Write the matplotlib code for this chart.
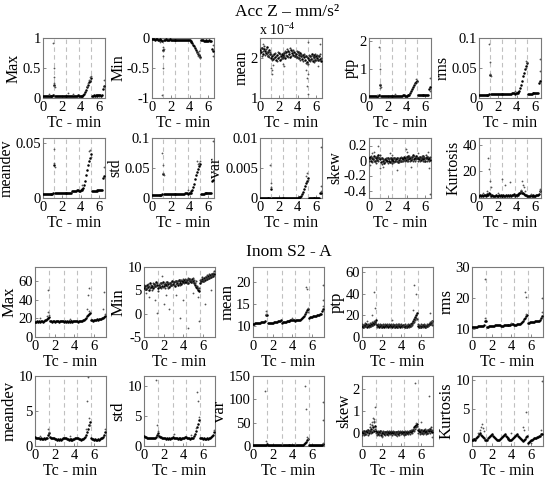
import matplotlib
matplotlib.use("Agg")
import matplotlib.pyplot as plt

plt.rcParams['font.family'] = ['Liberation Serif', 'DejaVu Serif']
plt.rcParams['mathtext.fontset'] = 'custom'
plt.rcParams['mathtext.rm'] = 'Liberation Serif'
plt.rcParams['font.size'] = 10

# ---------------- data : Acc Z (top block) ----------------
t_acc = [0.0, 0.1, 0.2, 0.3, 0.4, 0.5, 0.6, 0.7, 0.8, 0.9, 1.0, 1.1, 1.2,
         1.3, 1.4, 1.5, 1.6, 1.7, 1.8, 1.9, 2.0, 2.1, 2.2, 2.3, 2.4,
         2.5, 2.6, 2.7, 2.8, 2.9, 3.0, 3.1, 3.2, 3.3, 3.4, 3.5, 3.6, 3.7,
         3.8, 3.9, 4.0, 4.1, 4.2, 4.3, 4.4, 4.5, 4.6, 4.7, 4.8, 4.9, 5.0, 5.1,
         5.2, 5.3, 5.4, 5.5, 5.6, 5.7, 5.8, 5.9, 6.0, 6.1, 6.2, 6.3, 6.4, 6.5]
acc_breaks = [1.2, 2.5, 3.8, 5.15]

acc_max = [0.03, 0.03, 0.03, 0.04, 0.03, 0.03, 0.04, 0.04, 0.03, 0.04, 0.04, 0.05, 0.22,
           0.03, 0.03, 0.04, 0.03, 0.03, 0.04, 0.04, 0.03, 0.04, 0.04, 0.04, 0.04,
           0.03, 0.03, 0.04, 0.04, 0.03, 0.04, 0.04, 0.04, 0.03, 0.04, 0.04, 0.04, 0.05,
           0.03, 0.03, 0.04, 0.04, 0.04, 0.05, 0.07, 0.10, 0.14, 0.18, 0.22, 0.26, 0.29, 0.33,
           0.04, 0.04, 0.05, 0.04, 0.05, 0.05, 0.04, 0.05, 0.05, 0.05, 0.04, 0.05, 0.15, 0.20]
acc_max_xo = [1.1, 1.15, 1.2, 1.2, 1.25, 1.15, 4.7, 4.8, 4.9, 5.0, 5.05, 5.1, 6.5, 6.45, 2.7, 3.2, 0.6]
acc_max_yo = [0.92, 0.35, 0.25, 0.2, 0.18, 0.5, 0.2, 0.25, 0.3, 0.35, 0.3, 0.37, 0.3, 0.18, 0.08, 0.07, 0.06]

acc_min = [-0.02, -0.02, -0.02, -0.03, -0.02, -0.02, -0.03, -0.03, -0.02, -0.03, -0.04, -0.05, -0.20,
           -0.03, -0.03, -0.02, -0.03, -0.03, -0.03, -0.02, -0.03, -0.03, -0.04, -0.03, -0.04,
           -0.03, -0.03, -0.03, -0.04, -0.03, -0.03, -0.04, -0.03, -0.03, -0.04, -0.04, -0.03, -0.04,
           -0.03, -0.04, -0.04, -0.05, -0.06, -0.08, -0.11, -0.14, -0.17, -0.20, -0.23, -0.26, -0.28, -0.31,
           -0.04, -0.04, -0.04, -0.05, -0.05, -0.04, -0.05, -0.05, -0.05, -0.04, -0.05, -0.05, -0.18, -0.22]
acc_min_xo = [1.1, 1.15, 1.2, 1.2, 1.15, 1.25, 4.8, 4.9, 5.0, 5.1, 4.95, 6.5, 6.5, 0.9]
acc_min_yo = [-0.95, -0.5, -0.3, -0.15, -0.22, -0.18, -0.25, -0.3, -0.27, -0.33, -0.22, -0.12, -0.3, -0.06]

# mean in units of 1e-4
acc_mean = [2.20, 2.15, 2.25, 2.10, 2.22, 2.18, 2.12, 2.28, 2.15, 2.05, 2.20, 2.10, 2.00,
            2.05, 1.98, 2.10, 2.02, 1.95, 2.08, 2.00, 2.12, 1.96, 2.05, 2.10, 2.02,
            2.08, 2.12, 2.00, 2.15, 2.05, 2.18, 2.10, 2.02, 2.20, 2.12, 2.08, 2.15, 2.05,
            2.10, 2.02, 2.15, 2.08, 2.00, 2.12, 2.05, 1.98, 2.08, 2.02, 1.95, 2.05, 1.90, 2.00,
            1.95, 2.05, 1.98, 2.10, 1.92, 2.02, 2.08, 1.95, 2.05, 2.00, 1.96, 2.04, 1.98, 1.92]
acc_mean2 = [2.12, 2.25, 2.05, 2.18, 2.30, 2.08, 2.22, 2.10, 2.05, 2.18, 2.02, 2.15, 2.10,
             1.95, 2.08, 2.00, 2.12, 2.05, 1.92, 2.15, 2.02, 2.10, 1.98, 2.00, 2.12,
             2.00, 2.05, 2.18, 2.08, 2.22, 2.02, 2.16, 2.25, 2.06, 2.18, 2.20, 2.05, 2.12,
             2.02, 2.18, 2.00, 2.15, 2.10, 1.95, 2.10, 2.06, 1.92, 2.10, 2.05, 1.88, 2.02, 1.85,
             2.08, 1.92, 2.05, 1.98, 2.06, 1.90, 2.00, 2.10, 1.94, 2.08, 2.05, 1.95, 2.10, 2.00]
acc_mean_xo = [1.2, 1.25, 1.3, 1.35, 2.5, 2.55, 4.9, 5.0, 5.05, 5.1, 5.15, 5.0, 6.4, 5.1, 0.3, 6.2]
acc_mean_yo = [1.75, 1.6, 1.7, 1.82, 1.85, 1.8, 1.7, 1.3, 1.5, 1.1, 1.6, 1.85, 2.35, 2.4, 2.35, 1.8]

acc_ptp = [0.06, 0.06, 0.07, 0.06, 0.07, 0.06, 0.07, 0.07, 0.06, 0.07, 0.08, 0.10, 0.45,
           0.07, 0.07, 0.08, 0.07, 0.07, 0.08, 0.07, 0.08, 0.08, 0.07, 0.08, 0.08,
           0.07, 0.08, 0.08, 0.07, 0.08, 0.08, 0.07, 0.08, 0.08, 0.07, 0.08, 0.09, 0.09,
           0.07, 0.08, 0.08, 0.09, 0.10, 0.12, 0.17, 0.24, 0.32, 0.40, 0.46, 0.52, 0.56, 0.60,
           0.09, 0.09, 0.10, 0.09, 0.10, 0.10, 0.09, 0.10, 0.10, 0.10, 0.09, 0.10, 0.30, 0.40]
acc_ptp_xo = [1.1, 1.15, 1.2, 1.25, 1.2, 4.9, 5.0, 5.1, 6.5, 6.45, 2.8, 0.8]
acc_ptp_yo = [1.8, 1.0, 0.5, 0.4, 0.35, 0.5, 0.65, 0.55, 0.7, 0.25, 0.15, 0.12]

acc_rms = [0.005, 0.005, 0.005, 0.005, 0.005, 0.005, 0.005, 0.005, 0.005, 0.005, 0.005, 0.006, 0.038,
           0.006, 0.006, 0.006, 0.006, 0.006, 0.006, 0.006, 0.006, 0.006, 0.006, 0.006, 0.006,
           0.006, 0.006, 0.006, 0.007, 0.007, 0.007, 0.007, 0.007, 0.007, 0.007, 0.008, 0.008, 0.008,
           0.007, 0.008, 0.008, 0.009, 0.010, 0.012, 0.016, 0.022, 0.029, 0.036, 0.042, 0.048, 0.054, 0.058,
           0.007, 0.007, 0.007, 0.007, 0.007, 0.008, 0.008, 0.008, 0.008, 0.008, 0.008, 0.008, 0.025, 0.028]
acc_rms_xo = [1.1, 1.15, 1.2, 1.25, 4.95, 5.05, 5.1, 6.5, 6.5, 3.8]
acc_rms_yo = [0.09, 0.06, 0.04, 0.036, 0.05, 0.062, 0.06, 0.065, 0.045, 0.012]

acc_meandev = [0.004, 0.004, 0.004, 0.004, 0.004, 0.004, 0.004, 0.004, 0.004, 0.004, 0.004, 0.005, 0.030,
               0.005, 0.005, 0.005, 0.005, 0.005, 0.005, 0.005, 0.005, 0.005, 0.005, 0.005, 0.005,
               0.005, 0.005, 0.005, 0.005, 0.005, 0.005, 0.006, 0.006, 0.006, 0.006, 0.006, 0.007, 0.007,
               0.006, 0.006, 0.007, 0.007, 0.008, 0.009, 0.012, 0.016, 0.021, 0.026, 0.030, 0.034, 0.037, 0.040,
               0.006, 0.006, 0.006, 0.006, 0.006, 0.006, 0.007, 0.007, 0.007, 0.007, 0.007, 0.007, 0.018, 0.020]
acc_meandev_xo = [1.15, 1.2, 1.25, 4.9, 5.0, 5.1, 4.1, 6.5]
acc_meandev_yo = [0.045, 0.032, 0.028, 0.043, 0.044, 0.038, 0.012, 0.028]

acc_std = [0.005, 0.005, 0.005, 0.005, 0.005, 0.005, 0.005, 0.005, 0.005, 0.005, 0.005, 0.006, 0.040,
           0.006, 0.006, 0.006, 0.006, 0.006, 0.006, 0.006, 0.006, 0.006, 0.006, 0.006, 0.006,
           0.006, 0.006, 0.006, 0.006, 0.007, 0.007, 0.007, 0.007, 0.007, 0.007, 0.008, 0.008, 0.008,
           0.007, 0.008, 0.008, 0.009, 0.011, 0.013, 0.018, 0.024, 0.031, 0.038, 0.044, 0.049, 0.053, 0.057,
           0.007, 0.007, 0.007, 0.007, 0.008, 0.008, 0.008, 0.008, 0.008, 0.008, 0.008, 0.008, 0.028, 0.030]
acc_std_xo = [1.1, 1.15, 1.2, 1.25, 4.8, 4.9, 5.0, 5.1, 6.5, 6.5, 3.8]
acc_std_yo = [0.075, 0.055, 0.042, 0.038, 0.062, 0.056, 0.058, 0.062, 0.095, 0.045, 0.013]

acc_var = [0.00003, 0.00003, 0.00003, 0.00003, 0.00003, 0.00003, 0.00003, 0.00003, 0.00003, 0.00003, 0.00003, 0.00004, 0.0015,
           0.00004, 0.00004, 0.00004, 0.00004, 0.00004, 0.00004, 0.00004, 0.00004, 0.00004, 0.00004, 0.00004, 0.00004,
           0.00004, 0.00004, 0.00004, 0.00004, 0.00004, 0.00004, 0.00004, 0.00004, 0.00004, 0.00004, 0.00005, 0.00005, 0.00005,
           0.00005, 0.00006, 0.00007, 0.00008, 0.0001, 0.00015, 0.0003, 0.0006, 0.001, 0.0015, 0.002, 0.0025, 0.0029, 0.0033,
           0.00005, 0.00005, 0.00005, 0.00005, 0.00005, 0.00005, 0.00005, 0.00005, 0.00005, 0.00005, 0.00005, 0.00005, 0.0008, 0.0009]
acc_var_xo = [1.1, 1.15, 1.2, 4.9, 5.0, 5.1, 6.5, 6.5, 6.45]
acc_var_yo = [0.0055, 0.0025, 0.0018, 0.0036, 0.0042, 0.003, 0.0085, 0.002, 0.0012]

acc_skew = [0.03, 0.05, 0.00, 0.04, 0.02, 0.06, -0.01, 0.03, 0.05, 0.01, 0.08, 0.04, 0.02,
            -0.02, 0.03, 0.00, -0.03, 0.02, 0.01, -0.01, 0.04, 0.00, -0.02, 0.03, 0.01,
            0.02, -0.01, 0.03, 0.00, 0.02, 0.04, -0.02, 0.01, 0.03, 0.00, 0.04, 0.02, 0.05,
            0.03, 0.01, 0.05, 0.02, 0.06, 0.03, 0.04, 0.01, 0.05, 0.07, 0.02, 0.04, 0.06, 0.03,
            0.04, 0.02, 0.05, 0.01, 0.03, 0.06, 0.02, 0.04, 0.00, 0.03, 0.05, 0.02, 0.04, 0.01]
acc_skew2 = [-0.01, 0.02, 0.06, -0.02, 0.04, 0.00, 0.05, -0.03, 0.02, 0.06, 0.00, 0.03, 0.07,
             0.03, -0.04, 0.02, 0.01, -0.02, 0.04, 0.03, -0.03, 0.02, 0.03, -0.01, -0.03,
             -0.03, 0.03, -0.02, 0.04, -0.01, 0.00, 0.03, -0.02, 0.00, 0.05, -0.01, 0.00, 0.01,
             0.00, 0.05, -0.01, 0.04, 0.00, 0.06, -0.01, 0.05, 0.02, 0.00, 0.06, 0.00, 0.02, 0.05,
             -0.01, 0.05, 0.00, 0.04, 0.06, -0.01, 0.05, 0.00, 0.04, 0.07, -0.01, 0.05, 0.00, 0.05]
acc_skew_xo = [1.0, 0.5, 0.3, 1.2, 1.5, 2.2, 3.0, 3.9, 4.0, 4.5, 5.2, 6.5, 6.4, 6.3, 0.1, 2.5]
acc_skew_yo = [0.20, 0.12, 0.1, -0.1, -0.08, 0.1, -0.12, 0.15, 0.12, -0.08, 0.1, -0.45, -0.1, 0.12, -0.06, 0.08]

acc_kurt = [1.5, 2, 1.8, 2.5, 1.5, 2, 2.2, 1.8, 3, 2, 2.5, 3.5, 3,
            1.5, 2, 1.5, 1.8, 1.2, 2, 1.5, 1.8, 2.2, 1.5, 2, 1.8,
            1.5, 2, 1.8, 1.5, 2.5, 1.8, 2, 1.5, 2.2, 1.8, 2.5, 2, 3,
            1.5, 2, 2.5, 2, 3, 3.5, 4, 5, 4, 3.5, 3, 2.5, 2, 1.8,
            1.5, 1.8, 1.5, 2, 1.5, 1.8, 2, 1.5, 1.8, 2, 2.5, 2, 3, 5]
acc_kurt_xo = [1.0, 1.05, 1.2, 1.3, 0.4, 2.4, 2.8, 3.3, 4.6, 4.7, 4.5, 4.8, 4.9, 6.5, 6.45, 0.8, 2.0, 5.5]
acc_kurt_yo = [30, 22, 13, 8, 4, 14, 10, 12, 13, 10, 6, 8, 5, 5, 7, 5, 4, 3]

# ---------------- data : Inom S2 (bottom block) ----------------
t_cur = [0.0, 0.1, 0.2, 0.3, 0.4, 0.5, 0.6, 0.7, 0.8, 0.9, 1.0, 1.1, 1.2, 1.3, 1.4,
         1.5, 1.6, 1.7, 1.8, 1.9, 2.0, 2.1, 2.2, 2.3, 2.4, 2.5, 2.6, 2.7, 2.8,
         2.9, 3.0, 3.1, 3.2, 3.3, 3.4, 3.5, 3.6, 3.7, 3.8, 3.9, 4.0, 4.1, 4.2,
         4.3, 4.4, 4.5, 4.6, 4.7, 4.8, 4.9, 5.0, 5.1, 5.2, 5.3, 5.4, 5.5, 5.6,
         5.7, 5.8, 5.9, 6.0, 6.1, 6.2, 6.3, 6.4, 6.5, 6.6, 6.7, 6.8, 6.9, 7.0, 7.1]
cur_breaks = [1.45, 2.9, 4.3, 5.7]

cur_max = [16, 16, 17, 16, 17, 16, 17, 17, 16, 17, 18, 18, 19, 20, 21,
           17, 17, 16, 17, 17, 16, 17, 17, 17, 16, 17, 17, 17, 17,
           16, 17, 16, 17, 16, 17, 16, 17, 17, 16, 17, 17, 17, 17,
           17, 16, 17, 17, 17, 17, 18, 18, 19, 20, 22, 24, 25, 26,
           18, 18, 17, 18, 18, 18, 19, 18, 19, 19, 19, 20, 20, 21, 22]
cur_max_xo = [1.3, 1.35, 1.4, 1.2, 5.3, 5.4, 5.5, 5.5, 7.0, 7.1, 6.9, 0.5, 3.5]
cur_max_yo = [50, 27, 24, 22, 30, 45, 52, 28, 48, 25, 30, 20, 19]

cur_min = [5.5, 6.0, 5.2, 6.2, 5.8, 5.0, 6.5, 5.7, 6.0, 5.4, 6.3, 5.9, 6.8, 6.1, 5.6,
           6.2, 5.8, 6.5, 6.0, 6.7, 5.9, 6.4, 6.1, 6.8, 6.3, 5.7, 6.6, 6.2, 6.9,
           6.3, 6.8, 6.0, 7.0, 6.5, 6.2, 7.2, 6.6, 6.9, 6.4, 7.1, 6.7, 7.3, 6.8,
           6.8, 7.2, 6.5, 7.4, 7.0, 6.8, 7.5, 7.1, 6.6, 6.2, 5.8, 5.5, 5.0, 4.8,
           6.5, 7.0, 7.4, 7.0, 7.6, 7.2, 7.8, 7.5, 8.0, 7.7, 8.2, 7.9, 8.4, 8.1, 8.6]
cur_min2 = [6.2, 5.3, 6.0, 5.6, 6.4, 5.9, 5.4, 6.2, 5.1, 6.5, 5.7, 6.4, 5.9, 6.5, 4.8,
            5.9, 6.5, 5.5, 6.6, 5.8, 6.3, 5.6, 6.8, 6.0, 5.4, 6.5, 6.0, 6.8, 6.1,
            6.7, 6.1, 7.1, 6.4, 6.9, 7.0, 6.4, 7.3, 6.2, 7.2, 6.5, 7.4, 6.6, 7.5,
            7.3, 6.6, 7.6, 6.9, 7.5, 7.2, 6.8, 7.6, 7.3, 6.5, 6.9, 6.0, 5.6, 5.4,
            7.2, 6.8, 7.8, 7.3, 7.0, 7.9, 7.4, 8.2, 7.6, 8.4, 7.8, 8.5, 8.0, 8.8, 9.2]
cur_min_xo = [1.1, 1.3, 0.5, 2.0, 2.5, 3.2, 3.6, 4.0, 4.5, 5.0, 5.6, 5.5, 6.2, 6.8, 1.8, 2.2, 0.2]
cur_min_yo = [3.0, 0.2, 3.5, 2.0, 1.0, 4.0, -1.0, 3.0, -3.0, 4.5, -1.5, 3.5, 2.0, 5.0, 8.0, 4.0, 4.5]

cur_mean = [10.5, 10.5, 10.6, 10.6, 10.7, 10.7, 10.8, 10.8, 10.9, 10.9, 11.0, 11.0, 11.1, 12.5, 12.6,
            10.6, 10.6, 10.7, 10.7, 10.8, 10.8, 10.9, 10.9, 11.0, 11.0, 11.1, 11.1, 11.2, 11.3,
            10.8, 10.9, 10.9, 11.0, 11.0, 11.1, 11.1, 11.2, 11.2, 11.3, 11.3, 11.4, 11.5, 11.5,
            11.2, 11.3, 11.3, 11.4, 11.5, 11.5, 11.6, 11.8, 12.0, 12.3, 12.7, 13.2, 13.6, 14.0,
            11.9, 12.0, 12.1, 12.1, 12.2, 12.3, 12.3, 12.4, 12.5, 12.5, 12.6, 12.7, 12.8, 13.5, 14.0]
cur_mean_xo = [1.3, 1.35, 5.4, 5.45, 5.55, 5.6, 7.1, 7.05, 7.1, 4.0]
cur_mean_yo = [13.5, 12.8, 19.0, 18.5, 14.2, 13.2, 19.5, 16.0, 14.5, 11.8]

cur_ptp = [10, 9, 11, 10, 12, 9, 10, 11, 10, 12, 11, 13, 12, 14, 16,
           11, 10, 9, 10, 11, 9, 10, 9, 10, 11, 10, 9, 10, 11,
           10, 9, 10, 11, 9, 10, 9, 10, 11, 10, 9, 10, 10, 11,
           10, 9, 10, 9, 10, 11, 10, 12, 13, 15, 17, 19, 20, 22,
           10, 9, 10, 9, 10, 11, 10, 9, 10, 10, 11, 12, 12, 13, 15]
cur_ptp2 = [12, 11, 9, 13, 10, 11, 12, 9, 13, 10, 14, 11, 15, 13, 12,
            9, 12, 11, 12, 9, 11, 12, 11, 12, 9, 12, 11, 12, 9,
            12, 11, 12, 9, 11, 12, 11, 12, 9, 12, 11, 12, 9, 10,
            11, 12, 9, 11, 12, 9, 12, 10, 11, 13, 14, 16, 18, 17,
            12, 11, 9, 12, 11, 9, 12, 11, 9, 12, 10, 11, 14, 12, 11]
cur_ptp_xo = [1.2, 1.3, 1.0, 5.3, 5.5, 5.2, 6.9, 7.1, 0.5, 3.0]
cur_ptp_yo = [42, 27, 20, 48, 40, 25, 22, 15, 15, 16]

cur_rms = [10.6, 10.6, 10.7, 10.7, 10.8, 10.8, 10.9, 10.9, 11.0, 11.0, 11.1, 11.1, 11.2, 12.5, 12.7,
           10.8, 10.8, 10.9, 10.9, 11.0, 11.0, 11.1, 11.1, 11.2, 11.2, 11.3, 11.3, 11.4, 11.4,
           11.0, 11.1, 11.1, 11.2, 11.2, 11.3, 11.3, 11.4, 11.4, 11.5, 11.5, 11.6, 11.7, 11.8,
           11.4, 11.5, 11.5, 11.6, 11.7, 11.7, 11.8, 12.0, 12.3, 12.7, 13.2, 13.7, 14.2, 14.6,
           12.0, 12.1, 12.2, 12.2, 12.3, 12.4, 12.4, 12.5, 12.6, 12.6, 12.7, 12.8, 12.9, 13.6, 14.2]
cur_rms_xo = [1.3, 1.35, 5.4, 5.45, 5.5, 7.1, 7.05, 4.0]
cur_rms_yo = [26, 13.5, 22, 20.5, 15, 20, 15.5, 11.9]

cur_meandev = [1.3, 1.2, 1.2, 1.1, 1.1, 1.0, 1.1, 1.0, 1.0, 1.1, 1.0, 1.1, 1.2, 1.6, 1.8,
               1.3, 1.2, 1.2, 1.1, 1.1, 1.0, 1.0, 0.9, 1.0, 0.9, 1.0, 0.9, 1.0, 1.1,
               1.2, 1.1, 1.1, 1.0, 1.0, 0.9, 1.0, 0.9, 1.0, 0.9, 1.0, 1.0, 1.1, 1.2,
               1.2, 1.1, 1.0, 1.0, 0.9, 1.0, 1.0, 1.1, 1.3, 1.6, 2.0, 2.5, 3.0, 3.5,
               1.1, 1.0, 1.0, 0.9, 1.0, 0.9, 0.9, 1.0, 0.9, 1.0, 1.1, 1.2, 1.3, 1.6, 2.0]
cur_meandev_xo = [1.3, 1.4, 5.4, 5.3, 5.5, 5.6, 5.2, 7.1, 3.5, 0.5]
cur_meandev_yo = [2.5, 2.0, 9.8, 6.5, 4.0, 3.0, 2.5, 2.5, 1.5, 1.5]

cur_std = [1.6, 1.5, 1.5, 1.4, 1.4, 1.3, 1.4, 1.3, 1.3, 1.4, 1.3, 1.4, 1.5, 1.9, 2.1,
           1.6, 1.5, 1.5, 1.4, 1.4, 1.3, 1.3, 1.2, 1.3, 1.2, 1.3, 1.2, 1.3, 1.4,
           1.5, 1.4, 1.4, 1.3, 1.3, 1.2, 1.3, 1.2, 1.3, 1.2, 1.3, 1.3, 1.4, 1.5,
           1.5, 1.4, 1.3, 1.3, 1.2, 1.3, 1.3, 1.4, 1.7, 2.0, 2.5, 3.1, 3.7, 4.3,
           1.4, 1.3, 1.3, 1.2, 1.3, 1.2, 1.2, 1.3, 1.2, 1.3, 1.4, 1.5, 1.6, 1.9, 2.3]
cur_std_xo = [1.2, 1.3, 1.4, 5.4, 5.5, 5.3, 5.6, 7.1, 3.0, 4.8]
cur_std_yo = [11.0, 3.5, 2.5, 9.0, 7.5, 3.0, 4.8, 2.6, 2.0, 1.8]

cur_var = [2, 2, 2, 2, 2, 2, 2, 2, 2, 2, 2, 2, 2, 3, 4,
           2, 2, 2, 2, 2, 2, 2, 2, 2, 2, 2, 2, 2, 2,
           2, 2, 2, 2, 2, 2, 2, 2, 2, 2, 2, 2, 2, 2,
           2, 2, 2, 2, 2, 2, 2, 2, 3, 4, 6, 9, 12, 16,
           2, 2, 2, 2, 2, 2, 2, 2, 2, 2, 2, 2, 2, 3, 4]
cur_var_xo = [1.2, 1.3, 5.3, 5.4, 5.5, 5.55, 7.1, 7.1, 7.05, 2.9, 4.3]
cur_var_yo = [118, 10, 128, 80, 20, 14, 95, 55, 6, 5, 4]

cur_skew = [0.05, 0.0, 0.1, -0.05, 0.08, 0.02, 0.15, -0.02, 0.1, 0.2, 0.05, 0.25, 0.1, 0.3, 0.1,
            0.05, -0.05, 0.02, 0.08, -0.08, 0.0, 0.05, -0.05, 0.02, 0.06, -0.04, 0.03, 0.0, 0.05,
            -0.02, 0.04, 0.0, 0.06, -0.05, 0.02, 0.05, 0.0, -0.03, 0.04, 0.02, 0.06, 0.0, 0.05,
            0.02, -0.04, 0.05, 0.0, 0.06, 0.03, 0.08, 0.05, 0.1, 0.15, 0.25, 0.3, 0.35, 0.4,
            0.15, 0.1, 0.05, 0.12, 0.0, 0.08, 0.15, 0.05, 0.1, 0.0, 0.12, 0.08, 0.18, 0.1, 0.05]
cur_skew2 = [-0.08, 0.1, -0.1, 0.05, -0.05, 0.12, -0.08, 0.08, 0.25, 0.0, 0.35, 0.15, 0.5, 0.2, 0.0,
             -0.1, 0.08, -0.08, 0.0, 0.1, -0.12, 0.08, 0.05, -0.1, 0.0, 0.08, -0.1, 0.1, -0.05,
             0.08, -0.1, 0.1, -0.05, 0.05, -0.1, 0.0, 0.1, 0.06, -0.08, 0.1, -0.05, 0.1, -0.06,
             -0.08, 0.08, -0.06, 0.1, -0.05, 0.1, -0.04, 0.12, 0.0, 0.2, 0.1, 0.2, 0.25, 0.3,
             0.0, 0.2, -0.05, 0.0, 0.15, -0.05, 0.0, 0.18, -0.05, 0.15, 0.0, 0.2, 0.0, 0.25, 0.15]
cur_skew_xo = [1.0, 1.1, 1.2, 1.3, 0.8, 1.25, 5.4, 5.5, 6.8, 6.0, 7.1, 3.5, 2.0]
cur_skew_yo = [0.5, 0.7, 0.55, 1.2, 0.4, 0.65, 2.3, 0.45, 1.7, 0.5, -0.2, -0.15, -0.2]

cur_kurt = [-0.3, -0.2, -0.1, -0.3, 0.0, 0.2, 0.5, 0.8, 1.0, 0.6, 0.4, 0.2, 0.0, -0.2, -0.3,
            -0.2, 0.0, 0.2, 0.4, 0.6, 0.7, 0.5, 0.3, 0.1, -0.1, -0.2, -0.3, -0.2, -0.1,
            0.0, 0.2, 0.4, 0.6, 0.7, 0.5, 0.3, 0.1, -0.1, -0.2, -0.3, -0.2, -0.1, 0.0,
            0.2, 0.4, 0.6, 0.7, 0.5, 0.3, 0.1, -0.1, -0.3, -0.5, -0.3, -0.1, 0.2, 0.4,
            -0.8, -0.6, -0.4, -0.3, -0.2, -0.1, 0.0, 0.0, 0.1, 0.2, 0.3, 0.4, 0.5, 0.7, 0.8]
cur_kurt_xo = [0.8, 0.9, 1.0, 1.1, 1.2, 0.6, 5.2, 5.3, 5.5, 7.1, 7.0, 6.0, 4.0]
cur_kurt_yo = [1.5, 2.0, 2.5, 1.8, 1.2, 1.0, 2.0, 1.5, 4.5, 9.8, 1.5, -0.8, 1.0]

# ---------------- panel settings ----------------
names = ['Max', 'Min', 'mean', 'ptp', 'rms', 'meandev', 'std', 'var', 'skew', 'Kurtosis']

acc_series = [(acc_max, None, acc_max_xo, acc_max_yo),
              (acc_min, None, acc_min_xo, acc_min_yo),
              (acc_mean, acc_mean2, acc_mean_xo, acc_mean_yo),
              (acc_ptp, None, acc_ptp_xo, acc_ptp_yo),
              (acc_rms, None, acc_rms_xo, acc_rms_yo),
              (acc_meandev, None, acc_meandev_xo, acc_meandev_yo),
              (acc_std, None, acc_std_xo, acc_std_yo),
              (acc_var, None, acc_var_xo, acc_var_yo),
              (acc_skew, acc_skew2, acc_skew_xo, acc_skew_yo),
              (acc_kurt, None, acc_kurt_xo, acc_kurt_yo)]
acc_ylims = [(0, 1), (-1, 0), (1, 2.5), (0, 2.1), (0, 0.1),
             (0, 0.055), (0, 0.1), (0, 0.01), (-0.5, 0.3), (0, 45)]
acc_yticks = [[0, 0.5, 1], [-1, -0.5, 0], [1, 2], [0, 1, 2], [0, 0.05, 0.1],
              [0, 0.05], [0, 0.05, 0.1], [0, 0.005, 0.01], [-0.4, -0.2, 0, 0.2], [0, 20, 40]]
acc_ylabels = [['0', '0.5', '1'], ['-1', '-0.5', '0'], ['1', '2'], ['0', '1', '2'], ['0', '0.05', '0.1'],
               ['0', '0.05'], ['0', '0.05', '0.1'], ['0', '0.005', '0.01'], ['-0.4', '-0.2', '0', '0.2'], ['0', '20', '40']]

cur_series = [(cur_max, None, cur_max_xo, cur_max_yo),
              (cur_min, cur_min2, cur_min_xo, cur_min_yo),
              (cur_mean, None, cur_mean_xo, cur_mean_yo),
              (cur_ptp, cur_ptp2, cur_ptp_xo, cur_ptp_yo),
              (cur_rms, None, cur_rms_xo, cur_rms_yo),
              (cur_meandev, None, cur_meandev_xo, cur_meandev_yo),
              (cur_std, None, cur_std_xo, cur_std_yo),
              (cur_var, None, cur_var_xo, cur_var_yo),
              (cur_skew, cur_skew2, cur_skew_xo, cur_skew_yo),
              (cur_kurt, None, cur_kurt_xo, cur_kurt_yo)]
cur_ylims = [(0, 75), (-5, 10), (7.5, 23.5), (0, 65), (7.5, 30),
             (0, 10), (0, 11.7), (0, 150), (-0.6, 2.6), (-1.3, 10.7)]
cur_yticks = [[0, 20, 40, 60], [-5, 0, 5, 10], [10, 15, 20], [0, 20, 40, 60], [10, 20, 30],
              [0, 5, 10], [0, 5, 10], [0, 50, 100, 150], [0, 1, 2], [0, 5, 10]]
cur_ylabels = [[str(v) for v in tk] for tk in cur_yticks]

W, H = 550, 480
fig = plt.figure(figsize=(W / 100, H / 100), dpi=100)


def make_block(t, series, breaks, xmax, ylims, yticks, ylabels, lefts, width, rows, ylab_size):
    for k in range(10):
        r, c = divmod(k, 5)
        top, bot = rows[r]
        ax = fig.add_axes([lefts[c] / W, (H - bot) / H, width / W, (bot - top) / H])
        base, base2, xo, yo = series[k]
        for b in breaks:
            ax.axvline(b, color='#c0c0c0', lw=0.8, dashes=(4, 3), zorder=1)
        ax.plot(t, base, 'o', ms=1.8, mew=0, color='k', zorder=3)
        if base2 is not None:
            ax.plot(t, base2, 'o', ms=1.5, mew=0, color='#333333', zorder=3)
        ax.plot(xo, yo, 'o', ms=1.3, mew=0, color='#555555', zorder=3)
        ax.set_xlim(0, xmax)
        ax.set_ylim(*ylims[k])
        ax.set_xticks([0, 2, 4, 6])
        ax.set_xticklabels(['0', '2', '4', '6'])
        ax.set_yticks(yticks[k])
        ax.set_yticklabels(ylabels[k])
        ax.tick_params(direction='in', length=2, width=0.6, color='#777777',
                       labelsize=10.5, pad=1.5)
        ax.tick_params(axis='x', pad=2.5)
        for s in ax.spines.values():
            s.set_color('#7a7a7a')
            s.set_linewidth(0.8)
        ax.set_ylabel(names[k], fontsize=ylab_size, labelpad=0.5)
        ax.set_xlabel('Tc - min', fontsize=11.5, labelpad=0.5)
        if ylims[k] == (1, 2.5):
            ax.text(-0.02, 1.0, 'x 10$^{-4}$', transform=ax.transAxes,
                    fontsize=10, ha='left', va='bottom')


make_block(t_acc, acc_series, acc_breaks, 6.6, acc_ylims, acc_yticks, acc_ylabels,
           [43, 152, 260, 369, 479], 62, [(38, 98), (138, 198)], 11.5)
make_block(t_cur, cur_series, cur_breaks, 7.2, cur_ylims, cur_yticks, cur_ylabels,
           [35, 144, 253, 362, 472], 71, [(267, 337), (376, 446)], 12)

fig.text(287 / W, 1 - 12 / H, 'Acc Z – mm/s²', ha='center', va='center', fontsize=12.5)
fig.text(289 / W, 1 - 252 / H, 'Inom S2 - A', ha='center', va='center', fontsize=12.5)

fig.savefig('out.png', dpi=100)
